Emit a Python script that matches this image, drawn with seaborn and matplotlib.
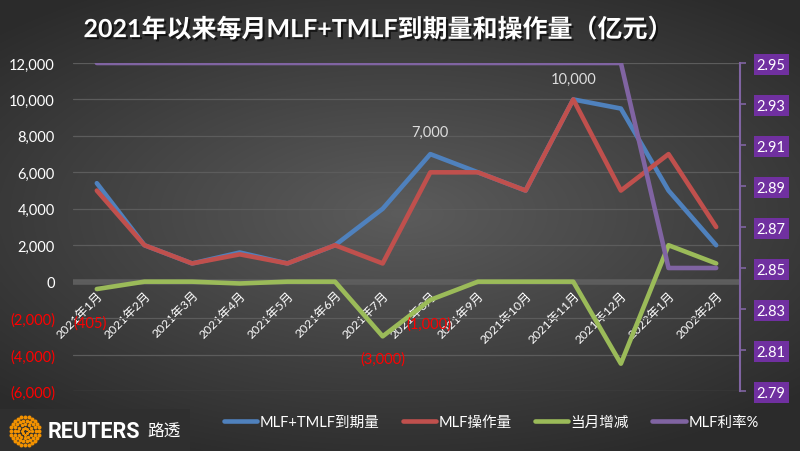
import matplotlib
matplotlib.use('Agg')
import matplotlib.pyplot as plt
import matplotlib.patheffects as pe
from matplotlib.patches import Rectangle
import numpy as np
import pandas as pd
import seaborn as sns

months = ['2021年1月', '2021年2月', '2021年3月', '2021年4月', '2021年5月', '2021年6月',
          '2021年7月', '2021年8月', '2021年9月', '2021年10月', '2021年11月', '2021年12月',
          '2022年1月', '2002年2月']
maturity = [5405, 2000, 1000, 1600, 1000, 2000, 4000, 7000, 6000, 5000, 10000, 9500, 5000, 2000]
operation = [5000, 2000, 1000, 1500, 1000, 2000, 1000, 6000, 6000, 5000, 10000, 5000, 7000, 3000]
change = [-405, 0, 0, -100, 0, 0, -3000, -1000, 0, 0, 0, -4500, 2000, 1000]
rate = [2.95] * 12 + [2.85, 2.85]

left_ticks = [-6000, -4000, -2000, 0, 2000, 4000, 6000, 8000, 10000, 12000]
right_ticks = [2.79, 2.81, 2.83, 2.85, 2.87, 2.89, 2.91, 2.93, 2.95]

df = pd.DataFrame({'idx': np.arange(len(months)), 'month': months, 'maturity': maturity,
                   'operation': operation, 'change': change, 'rate': rate})

sns.set_style('dark')
plt.rcParams['font.family'] = ['Lato', 'Noto Sans CJK SC', 'DejaVu Sans']

fig = plt.figure(figsize=(8, 4.52), dpi=100)

# background gradient
bg = fig.add_axes([0, 0, 1, 1], zorder=-10)
xx, yy = np.meshgrid(np.linspace(-1, 1, 400), np.linspace(-1, 1, 226))
r = np.sqrt((xx * 1.0) ** 2 + ((yy + 0.05) * 1.2) ** 2)
shade = 0.36 - 0.19 * np.clip(r, 0, 1.4) / 1.4
bg.imshow(np.dstack([shade] * 3), aspect='auto', extent=[0, 1, 0, 1], interpolation='bicubic')
bg.axis('off')

ax = fig.add_axes([73 / 800, 1 - 392 / 452, 667 / 800, 328 / 452])
ax.set_facecolor('none')
ax2 = ax.twinx()

blue, red, green, purple = '#4F81BD', '#C0504D', '#9BBB59', '#8064A2'
lw = 3.3
sns.lineplot(data=df, x='idx', y='maturity', ax=ax, color=blue, lw=lw, label='MLF+TMLF到期量',
             solid_joinstyle='round', solid_capstyle='round')
sns.lineplot(data=df, x='idx', y='operation', ax=ax, color=red, lw=lw, label='MLF操作量',
             solid_joinstyle='round', solid_capstyle='round')
sns.lineplot(data=df, x='idx', y='change', ax=ax, color=green, lw=lw, label='当月增减',
             solid_joinstyle='round', solid_capstyle='round')
sns.lineplot(data=df, x='idx', y='rate', ax=ax2, color=purple, lw=lw, label='MLF利率%',
             solid_joinstyle='round', solid_capstyle='round')
for a in (ax, ax2):
    if a.get_legend():
        a.get_legend().remove()

for s in ['top', 'left', 'bottom', 'right']:
    ax.spines[s].set_visible(False)
    ax2.spines[s].set_visible(False)
ax.spines['bottom'].set_position(('data', 0))

ax.set_xlim(-0.5, len(months) - 0.5)
ax.set_ylim(-6000, 12000)
ax2.set_ylim(2.79, 2.95)

ax.set_yticks(left_ticks)
ax.set_yticklabels([f'({abs(v):,})' if v < 0 else f'{v:,}' for v in left_ticks])
for lab, v in zip(ax.get_yticklabels(), left_ticks):
    lab.set_color('#FF0000' if v < 0 else 'white')
ax.tick_params(axis='y', length=0, pad=13, labelsize=10.5)
ax.grid(axis='y', color='#5c5c5c', lw=0.9)
ax.grid(axis='x', visible=False)
ax.axhline(0, color='#5e5e5e', lw=4, zorder=0.5)

ax.set_xticks(df['idx'])
ax.set_xticklabels(months, rotation=45, ha='right', va='top', rotation_mode='anchor',
                   color='white', fontsize=8.8)
ax.tick_params(axis='x', length=0, pad=5)
ax.set_xlabel('')
ax.set_ylabel('')
ax2.set_ylabel('')
ax2.spines['right'].set_visible(True)
ax2.spines['right'].set_color(purple)
ax2.spines['right'].set_linewidth(1.5)

ax2.set_yticks(right_ticks)
ax2.set_yticklabels([f'{v:.2f}' for v in right_ticks])
ax2.tick_params(axis='y', length=4, width=1.2, color=purple, direction='out', pad=8,
                labelsize=10.5, labelcolor='white')
for lab in ax2.get_yticklabels():
    lab.set_bbox(dict(facecolor='#7030A0', edgecolor='none', pad=2.2))
ax2.grid(False)

# data labels
ax.annotate('7,000', (7, maturity[7]), xytext=(0, 16), textcoords='offset points',
            ha='center', va='center', color='#dddddd', fontsize=10.5)
ax.annotate('10,000', (10, maturity[10]), xytext=(0, 15), textcoords='offset points',
            ha='center', va='center', color='#dddddd', fontsize=10.5)
ax.annotate('(405)', (0, change[0]), xytext=(-5, -24), textcoords='offset points',
            ha='center', va='center', color='#FF0000', fontsize=10.5)
ax.annotate('(3,000)', (6, change[6]), xytext=(0, -16), textcoords='offset points',
            ha='center', va='center', color='#FF0000', fontsize=10.5)
ax.annotate('(1,000)', (7, change[7]), xytext=(-1, -17), textcoords='offset points',
            ha='center', va='center', color='#FF0000', fontsize=10.5)

# title
fig.text(378 / 800, 1 - 30 / 452, '2021年以来每月MLF+TMLF到期量和操作量（亿元）', ha='center', va='center',
         color='white', fontsize=18, fontweight='bold',
         path_effects=[pe.withSimplePatchShadow(offset=(1.5, -1.5), shadow_rgbFace='black', alpha=0.6)])

# legend
h1, l1 = ax.get_legend_handles_labels()
h2, l2 = ax2.get_legend_handles_labels()
leg = fig.legend(h1 + h2, l1 + l2, loc='center', bbox_to_anchor=(491 / 800, 1 - 423 / 452), ncol=4,
                 frameon=False, fontsize=10.5, handlelength=2.3, handletextpad=0.15, columnspacing=1.6)
for t in leg.get_texts():
    t.set_color('white')

# logo
logo = fig.add_axes([0, 0, 190 / 800, 42 / 452], zorder=5)
logo.set_xlim(0, 190)
logo.set_ylim(0, 42)
logo.add_patch(Rectangle((0, 0), 190, 42, facecolor='#2f2f2f', edgecolor='none'))
for rad, n in [(3.5, 8), (7, 12), (10.5, 18), (14, 24)]:
    ang = np.linspace(0, 2 * np.pi, n, endpoint=False)
    logo.scatter(25 + rad * np.cos(ang), 20 + rad * np.sin(ang), s=4 + rad * 0.3, color='#F39200', lw=0)
logo.text(48, 20, 'REUTERS', color='white', fontsize=15.5, fontweight='bold', va='center', ha='left',
          family=['Roboto', 'DejaVu Sans'])
logo.text(147, 20, '路透', color='white', fontsize=12, va='center', ha='left',
          family=['Noto Sans CJK SC', 'DejaVu Sans'])
logo.axis('off')

fig.savefig('out.png', dpi=100)
